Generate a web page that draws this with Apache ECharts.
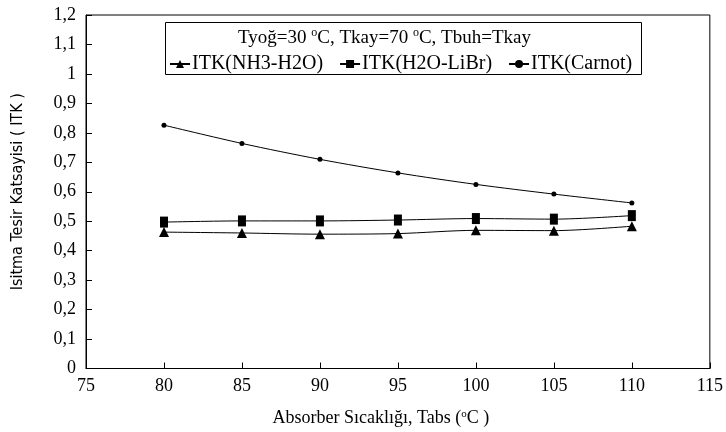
<!DOCTYPE html>
<html><head><meta charset="utf-8">
<script src="https://cdn.jsdelivr.net/npm/echarts@6/dist/echarts.min.js"></script>
<style>html,body{margin:0;padding:0;background:#fff}#c{width:726px;height:432px}</style>
</head><body><div id="c"></div>
<script>
const temps = [80, 85, 90, 95, 100, 105, 110];
const itkNH3 = [0.463, 0.460, 0.456, 0.458, 0.469, 0.468, 0.483];
const itkLiBr = [0.497, 0.501, 0.501, 0.504, 0.509, 0.507, 0.519];
const itkCarnot = [0.826, 0.764, 0.710, 0.664, 0.625, 0.592, 0.562];
const seriesNames = ['ITK(NH3-H2O)', 'ITK(H2O-LiBr)', 'ITK(Carnot)'];

const serif = 'Liberation Serif, Times New Roman, serif';
const pair = (xs, ys) => xs.map((x, i) => [x, ys[i]]);
const chart = echarts.init(document.getElementById('c'));
const fmtY = v => { const r = Math.round(v * 10) / 10; return String(r).replace('.', ','); };

chart.setOption({
  animation: false,
  backgroundColor: '#fff',
  grid: { left: 86, right: 14, top: 15, bottom: 58, show: true, borderColor: '#000', borderWidth: 1 },
  title: {
    text: 'Tyoğ=30 {s|o}C, Tkay=70 {s|o}C, Tbuh=Tkay',
    left: 233, top: 22,
    textStyle: {
      fontFamily: serif, fontSize: 19, fontWeight: 'normal', color: '#000', lineHeight: 22,
      rich: { s: { fontFamily: serif, fontSize: 12, verticalAlign: 'top', lineHeight: 22, padding: [0, 0, 9, 0], color: '#000' } }
    }
  },
  legend: {
    data: seriesNames,
    left: 164, top: 49,
    itemWidth: 20, itemHeight: 10, itemGap: 16,
    textStyle: { fontFamily: serif, fontSize: 20, color: '#000', padding: [0, 0, 0, -3] }
  },
  graphic: [{
    type: 'rect', shape: { x: 165.5, y: 22.5, width: 476, height: 52 },
    style: { fill: '#fff', stroke: '#000', lineWidth: 1 }, z: 0
  }],
  xAxis: {
    type: 'value', min: 75, max: 115, interval: 5,
    name: 'Absorber Sıcaklığı, Tabs ({s|o}C )', nameLocation: 'middle', nameGap: 40,
    nameTextStyle: { fontFamily: serif, fontSize: 18, color: '#000', padding: [0, 34, 0, 0],
      rich: { s: { fontFamily: serif, fontSize: 11, verticalAlign: 'top', padding: [0, 0, 8, 0], color: '#000' } } },
    axisLine: { lineStyle: { color: '#000', width: 1 } },
    axisTick: { inside: true, length: 6, lineStyle: { color: '#000' } },
    axisLabel: { fontFamily: serif, fontSize: 18, color: '#000', margin: 9 },
    splitLine: { show: false }
  },
  yAxis: {
    type: 'value', min: 0, max: 1.2, interval: 0.1,
    name: 'Isitma Tesir Katsayisi ( ITK )', nameLocation: 'middle', nameGap: 60,
    nameTextStyle: { fontFamily: 'Liberation Sans Narrow, DejaVu Sans Condensed, Liberation Sans, sans-serif', fontSize: 16, color: '#000' },
    axisLine: { show: true, lineStyle: { color: '#000', width: 1 } },
    axisTick: { show: true, inside: true, length: 6, lineStyle: { color: '#000' } },
    axisLabel: { fontFamily: serif, fontSize: 18, color: '#000', margin: 10, formatter: fmtY },
    splitLine: { show: false }
  },
  series: [
    { name: seriesNames[0], type: 'line', data: pair(temps, itkNH3), smooth: 0.3,
      symbol: 'triangle', symbolSize: 10, itemStyle: { color: '#000' }, lineStyle: { color: '#000', width: 1 } },
    { name: seriesNames[1], type: 'line', data: pair(temps, itkLiBr), smooth: 0.3,
      symbol: 'rect', symbolSize: [8, 11], itemStyle: { color: '#000' }, lineStyle: { color: '#000', width: 1 } },
    { name: seriesNames[2], type: 'line', data: pair(temps, itkCarnot), smooth: 0.3,
      symbol: 'circle', symbolSize: 5, itemStyle: { color: '#000' }, lineStyle: { color: '#000', width: 1 } }
  ]
});
</script></body></html>
